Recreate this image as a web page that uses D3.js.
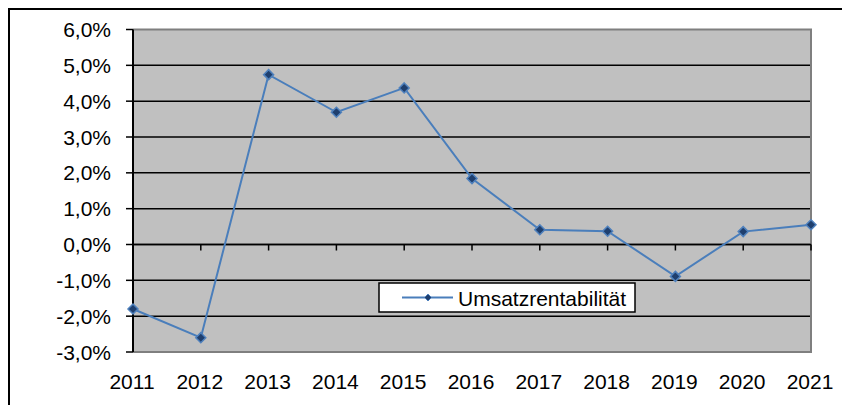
<!DOCTYPE html>
<html>
<head>
<meta charset="utf-8">
<script src="https://cdn.jsdelivr.net/npm/d3@7"></script>
<style>
  body { margin: 0; background: #fff; }
  svg { display: block; font-family: "Liberation Sans", Arial, sans-serif; }
</style>
</head>
<body>
<div id="chart"></div>
<script>
var years = ["2011", "2012", "2013", "2014", "2015", "2016", "2017", "2018", "2019", "2020", "2021"];
var umsatzrentabilitaet = [-0.018, -0.026, 0.0474, 0.0369, 0.0437, 0.0184, 0.0041, 0.0037, -0.0089, 0.0036, 0.0055];
var yTicks = [-0.03, -0.02, -0.01, 0, 0.01, 0.02, 0.03, 0.04, 0.05, 0.06];
var seriesName = "Umsatzrentabilität";

var width = 842, height = 405;
var plot = {left: 133, right: 811, top: 29.5, bottom: 352};

var de = d3.formatLocale({decimal: ",", thousands: ".", grouping: [3], currency: ["", " €"], minus: "-"});
var fmt = de.format(".1%");

var svg = d3.select("#chart").append("svg")
    .attr("width", width)
    .attr("height", height);

// outer frame
svg.append("rect")
    .attr("x", 9).attr("y", 9)
    .attr("width", width + 20).attr("height", height + 20)
    .style("fill", "white")
    .style("stroke", "black")
    .style("stroke-width", 2);

var x = d3.scalePoint().domain(years).range([plot.left, plot.right]);
var y = d3.scaleLinear().domain([-0.03, 0.06]).range([plot.bottom, plot.top]);

// plot area
svg.append("rect")
    .attr("x", plot.left).attr("y", plot.top)
    .attr("width", plot.right - plot.left).attr("height", plot.bottom - plot.top)
    .style("fill", "#c0c0c0");

// gridlines
svg.append("g").selectAll("line")
    .data(yTicks.filter(function(d) { return d > -0.03 && d < 0.06; }))
    .join("line")
    .attr("x1", plot.left).attr("x2", plot.right)
    .attr("y1", function(d) { return y(d); }).attr("y2", function(d) { return y(d); })
    .style("stroke", "black")
    .style("stroke-width", 1.5);

// grey borders top/right/bottom
svg.append("path")
    .attr("d", "M" + plot.left + "," + plot.top + "H" + plot.right + "V" + plot.bottom + "H" + plot.left)
    .style("fill", "none")
    .style("stroke", "#7f7f7f")
    .style("stroke-width", 2);

// y axis
var yAxis = svg.append("g");
yAxis.append("line")
    .attr("x1", plot.left).attr("x2", plot.left)
    .attr("y1", plot.top).attr("y2", plot.bottom)
    .style("stroke", "black").style("stroke-width", 2);
yAxis.selectAll(".tick")
    .data(yTicks)
    .join("line")
    .attr("x1", plot.left - 7).attr("x2", plot.left)
    .attr("y1", function(d) { return y(d); }).attr("y2", function(d) { return y(d); })
    .style("stroke", "black").style("stroke-width", 1.5);
yAxis.selectAll("text")
    .data(yTicks)
    .join("text")
    .attr("x", 111)
    .attr("y", function(d) { return y(d); })
    .attr("dy", "0.36em")
    .attr("text-anchor", "end")
    .style("font-size", "21px")
    .style("fill", "black")
    .text(function(d) { return fmt(d); });

// x axis at 0
var xAxis = svg.append("g");
xAxis.append("line")
    .attr("x1", plot.left).attr("x2", plot.right)
    .attr("y1", y(0)).attr("y2", y(0))
    .style("stroke", "black").style("stroke-width", 1.5);
xAxis.selectAll(".tick")
    .data(years)
    .join("line")
    .attr("x1", function(d) { return x(d); }).attr("x2", function(d) { return x(d); })
    .attr("y1", y(0)).attr("y2", y(0) + 6)
    .style("stroke", "black").style("stroke-width", 1.5);
xAxis.selectAll("text")
    .data(years)
    .join("text")
    .attr("x", function(d) { return x(d) - 1; })
    .attr("y", 389)
    .attr("text-anchor", "middle")
    .style("font-size", "21px")
    .style("fill", "black")
    .text(function(d) { return d; });

// line
var line = d3.line()
    .x(function(d, i) { return x(years[i]); })
    .y(function(d) { return y(d); });

svg.append("path")
    .datum(umsatzrentabilitaet)
    .attr("d", line)
    .style("fill", "none")
    .style("stroke", "#4a7ebb")
    .style("stroke-width", 2);

var diamond = "M0,-5L5,0L0,5L-5,0Z";
svg.append("g").selectAll("path")
    .data(umsatzrentabilitaet)
    .join("path")
    .attr("d", diamond)
    .attr("transform", function(d, i) { return "translate(" + x(years[i]) + "," + y(d) + ")"; })
    .style("fill", "#1f3f6e")
    .style("stroke", "#4f81bd")
    .style("stroke-width", 1.5);

// legend
var legend = svg.append("g");
legend.append("rect")
    .attr("x", 379).attr("y", 283)
    .attr("width", 256).attr("height", 29)
    .style("fill", "white")
    .style("stroke", "black")
    .style("stroke-width", 1.5);
legend.append("line")
    .attr("x1", 402).attr("x2", 453)
    .attr("y1", 297.5).attr("y2", 297.5)
    .style("stroke", "#4a7ebb").style("stroke-width", 2);
legend.append("path")
    .attr("d", "M0,-3.5L3.5,0L0,3.5L-3.5,0Z")
    .attr("transform", "translate(428,297.5)")
    .style("fill", "#1f3f6e")
    .style("stroke", "#4f81bd")
    .style("stroke-width", 1);
legend.append("text")
    .attr("x", 458)
    .attr("y", 305.5)
    .style("font-size", "21px")
    .style("fill", "black")
    .text(seriesName);
</script>
</body>
</html>
